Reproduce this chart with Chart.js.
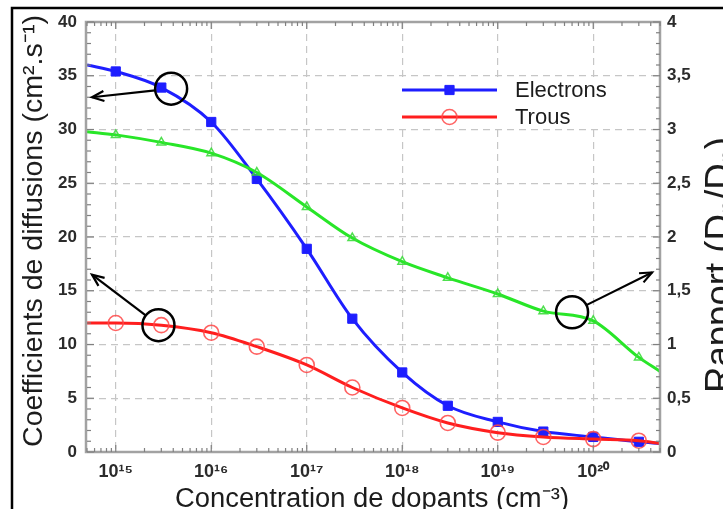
<!DOCTYPE html>
<html>
<head>
<meta charset="utf-8">
<script src="https://cdn.jsdelivr.net/npm/chart.js@4.4.1/dist/chart.umd.min.js"></script>
<style>
  html, body { margin: 0; padding: 0; background: #fff; }
  canvas { display: block; }
</style>
</head>
<body>
<canvas id="diffChart" width="723" height="509"></canvas>
<script>
// values
const dopants = [5e14, 1e15, 3e15, 1e16, 3e16, 1e17, 3e17, 1e18, 3e18, 1e19, 3e19, 1e20, 3e20, 5e20];
const electrons = [36.0, 35.4, 33.9, 30.7, 25.4, 18.9, 12.4, 7.4, 4.3, 2.8, 1.9, 1.4, 0.95, 0.8];
const holes = [12.0, 12.0, 11.8, 11.1, 9.8, 8.1, 6.0, 4.1, 2.7, 1.8, 1.4, 1.2, 1.05, 0.8];
const ratio = [2.98, 2.95, 2.88, 2.78, 2.60, 2.28, 1.99, 1.77, 1.62, 1.47, 1.31, 1.22, 0.88, 0.75];

const xTicks = [1e15, 1e16, 1e17, 1e18, 1e19, 1e20];
const xTickLabels = ['10¹⁵', '10¹⁶', '10¹⁷', '10¹⁸', '10¹⁹', '10²⁰'];
const ratioTickLabels = ['0', '0,5', '1', '1,5', '2', '2,5', '3', '3,5', '4'];

// circled points with arrows towards the axis they belong to
const callouts = [
    { scale: 'y', x: 3.8e15, y: 33.8, tip: 33.0, side: 'left' },
    { scale: 'y', x: 2.8e15, y: 11.8, tip: 16.5, side: 'left' },
    { scale: 'y2', x: 6e19, y: 1.30, tip: 1.67, side: 'right' }
];

const FONT = "'Liberation Sans', Arial, Helvetica, sans-serif";
const BLUE = 'rgb(30, 30, 255)';
const RED = 'rgb(255, 30, 30)';
const GREEN = 'rgb(40, 230, 40)';

const toPoints = (values) => dopants.map((d, i) => ({ x: d, y: values[i] }));
// the two end points only carry the curve to the frame, no marker there
const markerRadius = (r) => (ctx) => (ctx.dataIndex === 0 || ctx.dataIndex === dopants.length - 1) ? 0 : r;

function strokeLine(ctx, x1, y1, x2, y2) {
    ctx.beginPath();
    ctx.moveTo(x1, y1);
    ctx.lineTo(x2, y2);
    ctx.stroke();
}

function drawTitle(ctx, text, x, y, angle, size, length) {
    ctx.save();
    ctx.translate(x, y);
    ctx.rotate(angle);
    ctx.font = size + 'px ' + FONT;
    const w = ctx.measureText(text).width;
    ctx.scale(length / w, 1);
    ctx.textAlign = 'center';
    ctx.textBaseline = 'alphabetic';
    ctx.fillStyle = '#1c1c1c';
    ctx.fillText(text, 0, 0);
    ctx.restore();
}

const decorPlugin = {
    id: 'decor',
    beforeDraw(chart) {
        const ctx = chart.ctx;
        ctx.save();
        ctx.fillStyle = '#fff';
        ctx.fillRect(0, 0, chart.width, chart.height);
        ctx.restore();
    },
    afterDraw(chart) {
        const { ctx, chartArea: a, scales } = chart;
        ctx.save();

        // outer black border of the figure
        ctx.strokeStyle = '#000';
        ctx.lineWidth = 2.5;
        ctx.beginPath();
        ctx.moveTo(12, chart.height);
        ctx.lineTo(12, 8);
        ctx.lineTo(chart.width, 8);
        ctx.stroke();

        // plot frame
        ctx.strokeStyle = '#a2a2a2';
        ctx.lineWidth = 2.5;
        ctx.strokeRect(a.left - 1, a.top, a.right - a.left + 1, a.bottom - a.top);

        // tick marks, inward
        ctx.strokeStyle = '#808080';
        ctx.lineWidth = 1.2;
        for (let v = 0; v <= 40; v++) {
            const py = scales.y.getPixelForValue(v);
            const len = v % 5 === 0 ? 7 : 4;
            strokeLine(ctx, a.left, py, a.left + len, py);
            strokeLine(ctx, a.right, py, a.right - len, py);
        }
        for (let e = 14; e <= 20; e++) {
            for (let m = 1; m <= 9; m++) {
                const v = m * Math.pow(10, e);
                if (v < scales.x.min || v > scales.x.max) continue;
                const px = scales.x.getPixelForValue(v);
                const len = m === 1 ? 7 : 4;
                strokeLine(ctx, px, a.bottom, px, a.bottom - len);
                strokeLine(ctx, px, a.top, px, a.top + len);
            }
        }

        // legend
        ctx.fillStyle = '#fff';
        ctx.fillRect(395, 80, 218, 45);
        const items = [chart.data.datasets[2], chart.data.datasets[0]];
        items.forEach((ds, i) => {
            const ly = 90 + i * 27;
            ctx.strokeStyle = ds.borderColor;
            ctx.lineWidth = 3;
            strokeLine(ctx, 402, ly, 497, ly);
            ctx.fillStyle = ds.pointBackgroundColor;
            ctx.strokeStyle = ds.pointBorderColor;
            ctx.lineWidth = ds.pointBorderWidth;
            Chart.helpers.drawPoint(ctx, {
                pointStyle: ds.pointStyle, radius: ds.legendRadius,
                borderWidth: ds.pointBorderWidth, rotation: 0
            }, 449.5, ly);
            ctx.fillStyle = '#1c1c1c';
            ctx.font = '22px ' + FONT;
            ctx.textAlign = 'left';
            ctx.textBaseline = 'middle';
            ctx.fillText(ds.label, 515, ly + 1);
        });

        // callouts
        ctx.strokeStyle = '#000';
        ctx.fillStyle = '#000';
        callouts.forEach(c => {
            const cx = scales.x.getPixelForValue(c.x);
            const cy = scales[c.scale].getPixelForValue(c.y);
            const tx = c.side === 'left' ? a.left + 5 : a.right - 8;
            const ty = scales[c.scale].getPixelForValue(c.tip);
            const r = 16;
            ctx.lineWidth = 2.5;
            ctx.beginPath();
            ctx.arc(cx, cy, r, 0, Math.PI * 2);
            ctx.stroke();
            const ang = Math.atan2(ty - cy, tx - cx);
            ctx.lineWidth = 2.2;
            strokeLine(ctx, cx + r * Math.cos(ang), cy + r * Math.sin(ang), tx, ty);
            const head = 13, spread = 0.4;
            ctx.beginPath();
            ctx.moveTo(tx - head * Math.cos(ang - spread), ty - head * Math.sin(ang - spread));
            ctx.lineTo(tx, ty);
            ctx.lineTo(tx - head * Math.cos(ang + spread), ty - head * Math.sin(ang + spread));
            ctx.stroke();
        });

        // axis titles
        drawTitle(ctx, 'Coefficients de diffusions (cm².s⁻¹)', 42, 231, -Math.PI / 2, 28, 432);
        drawTitle(ctx, 'Concentration de dopants (cm⁻³)', 372, 507, 0, 27, 394);
        drawTitle(ctx, 'Rapport (Dₙ/Dₚ)', 731, 265, -Math.PI / 2, 36, 256);

        ctx.restore();
    }
};

const tickFont = { family: FONT, size: 17, weight: 'bold' };
const gridColor = '#c6c6c6';

new Chart(document.getElementById('diffChart'), {
    type: 'line',
    data: {
        datasets: [
            {
                label: 'Trous',
                data: toPoints(holes),
                yAxisID: 'y',
                borderColor: RED,
                borderWidth: 3,
                pointStyle: 'circle',
                pointRadius: markerRadius(7.5),
                legendRadius: 7.5,
                pointBackgroundColor: 'rgba(255,255,255,0)',
                pointBorderColor: 'rgba(255, 70, 70, 0.85)',
                pointBorderWidth: 1.6,
                cubicInterpolationMode: 'monotone'
            },
            {
                label: 'Rapport',
                data: toPoints(ratio),
                yAxisID: 'y2',
                borderColor: GREEN,
                borderWidth: 3,
                pointStyle: 'triangle',
                pointRadius: markerRadius(5),
                pointBackgroundColor: 'rgba(255,255,255,0)',
                pointBorderColor: 'rgba(60, 220, 60, 0.9)',
                pointBorderWidth: 1.5,
                cubicInterpolationMode: 'monotone'
            },
            {
                label: 'Electrons',
                data: toPoints(electrons),
                yAxisID: 'y',
                borderColor: BLUE,
                borderWidth: 3,
                pointStyle: 'rect',
                pointRadius: markerRadius(6.5),
                legendRadius: 6.5,
                pointBackgroundColor: BLUE,
                pointBorderColor: BLUE,
                pointBorderWidth: 1,
                cubicInterpolationMode: 'monotone'
            }
        ]
    },
    options: {
        responsive: false,
        animation: false,
        events: [],
        layout: { padding: { top: 22, left: 0, right: 0, bottom: 0 } },
        plugins: {
            legend: { display: false },
            tooltip: { enabled: false }
        },
        scales: {
            x: {
                type: 'logarithmic',
                min: 5e14,
                max: 5e20,
                afterBuildTicks: (s) => { s.ticks = xTicks.map(v => ({ value: v })); },
                afterFit: (s) => { s.height = 57; },
                ticks: {
                    autoSkip: false,
                    maxRotation: 0,
                    padding: 9,
                    font: { family: FONT, size: 18, weight: 'bold' },
                    color: '#2b2b2b',
                    callback: (v, i) => xTickLabels[i]
                },
                grid: { color: gridColor, lineWidth: 1.2, drawTicks: false },
                border: { display: false, dash: [7, 5] }
            },
            y: {
                position: 'left',
                min: 0,
                max: 40,
                afterFit: (s) => { s.width = 87; },
                ticks: { stepSize: 5, padding: 10, font: tickFont, color: '#2b2b2b' },
                grid: { color: gridColor, lineWidth: 1.2, drawTicks: false },
                border: { display: false, dash: [7, 5] }
            },
            y2: {
                position: 'right',
                min: 0,
                max: 4,
                afterFit: (s) => { s.width = 63; },
                ticks: {
                    stepSize: 0.5,
                    padding: 7,
                    font: tickFont,
                    color: '#2b2b2b',
                    callback: (v, i) => ratioTickLabels[i]
                },
                grid: { display: false, drawTicks: false },
                border: { display: false }
            }
        }
    },
    plugins: [decorPlugin]
});
</script>
</body>
</html>
